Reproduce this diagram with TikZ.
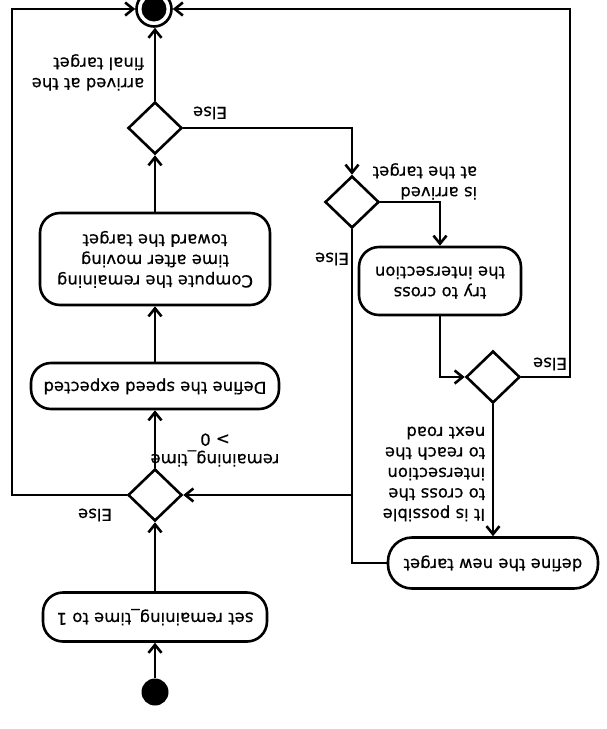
\documentclass[tikz,border=0pt]{standalone}
\usepackage{fontspec}
\usepackage{graphicx}
\setmainfont{DejaVu Sans}[BoldFont=DejaVu Sans,BoldFeatures={FakeBold=0.5}]
\usetikzlibrary{arrows.meta,shapes.geometric}
\newcommand{\flc}[1]{\rotatebox{180}{\begin{tabular}{@{}c@{}}#1\end{tabular}}}
\newcommand{\fll}[1]{\rotatebox{180}{\begin{tabular}{@{}l@{}}#1\end{tabular}}}
\tikzset{
  ln/.style={line width=2.6pt},
  arr/.style={ln,-{Straight Barb[length=8pt,width=13pt]}},
  actbox/.style={draw,ln,rounded corners=20pt,inner sep=0pt,align=center},
  dec/.style={diamond,draw,ln,inner sep=0pt,minimum width=54pt,minimum height=52pt},
  lbl/.style={inner sep=0pt},
  every node/.style={font=\fontsize{16.5}{20.5}\selectfont\bfseries}
}
\begin{document}
\begin{tikzpicture}[x=1pt,y=-1pt]
\useasboundingbox (0,0) rectangle (607,729);
% final node
\node[circle,draw,line width=2.6pt,minimum size=35pt,inner sep=0pt] (fin) at (154,9) {};
\fill (fin.center) circle (12.5pt);
% initial node
\node[circle,fill,minimum size=27pt,inner sep=0pt] (init) at (155,692) {};
% actions
\node[actbox,minimum width=224pt,minimum height=49pt] (set) at (155,617) {\flc{set remaining\_time to 1}};
\node[actbox,minimum width=248pt,minimum height=46pt] (speed) at (155,386) {\flc{Define the speed expected}};
\node[actbox,minimum width=230pt,minimum height=92pt] (comp) at (155,259) {\flc{Compute the remaining\\time after moving\\toward the target}};
\node[actbox,minimum width=162pt,minimum height=68pt] (try) at (440,281) {\flc{try to cross\\the intersection}};
\node[actbox,rounded corners=24pt,minimum width=210pt,minimum height=51pt] (def) at (493,563) {\flc{define the new target}};
% decisions
\node[dec] (dA) at (155,128) {};
\node[dec] (dB) at (352,202) {};
\node[dec] (dC) at (155,495) {};
\node[dec] (dD) at (493,377) {};
% helper coordinates
\coordinate (cL) at (12,9);
\coordinate (cR) at (570,9);
\coordinate (jn) at (352,495);
% connectors
\draw[arr] (init) -- (set.south);
\draw[arr] (set.north) -- (dC.south);
\draw[arr] (dC.north) -- (speed.south);
\draw[arr] (speed.north) -- (comp.south);
\draw[arr] (comp.north) -- (dA.south);
\draw[arr] (dA.north) -- (fin.south -| dA.north);
\draw[arr] (dA.east) -| (dB.north);
\draw[arr] (dB.east) -| (try.north);
\draw[arr] (try.south) |- (dD.west);
\draw[arr] (dD.east) -| (cR) -- (fin.east);
\draw[arr] (dD.south) -- (def.north);
\draw[arr] (dB.south) |- (dC.east);
\draw[ln] (def.west) -| (jn);
\draw[arr] (dC.west) -| (cL) -- (fin.west);
% labels
\node[lbl] (lA) at (88,72) {\fll{arrived at the\\final target}};
\node[lbl] (eA) at (210,111) {\flc{Else}};
\node[lbl] (lB) at (425,181) {\fll{is arrived\\at the target}};
\node[lbl] (eB) at (332,257) {\flc{Else}};
\node[lbl] (eD) at (550,362) {\flc{Else}};
\node[lbl] (lD) at (434,472) {\fll{It is possible\\to cross the\\intersection\\to reach the\\next road}};
\node[lbl] (lC) at (215,448) {\flc{remaining\_time\\> 0}};
\node[lbl] (eC) at (95,513) {\flc{Else}};
\end{tikzpicture}
\end{document}
